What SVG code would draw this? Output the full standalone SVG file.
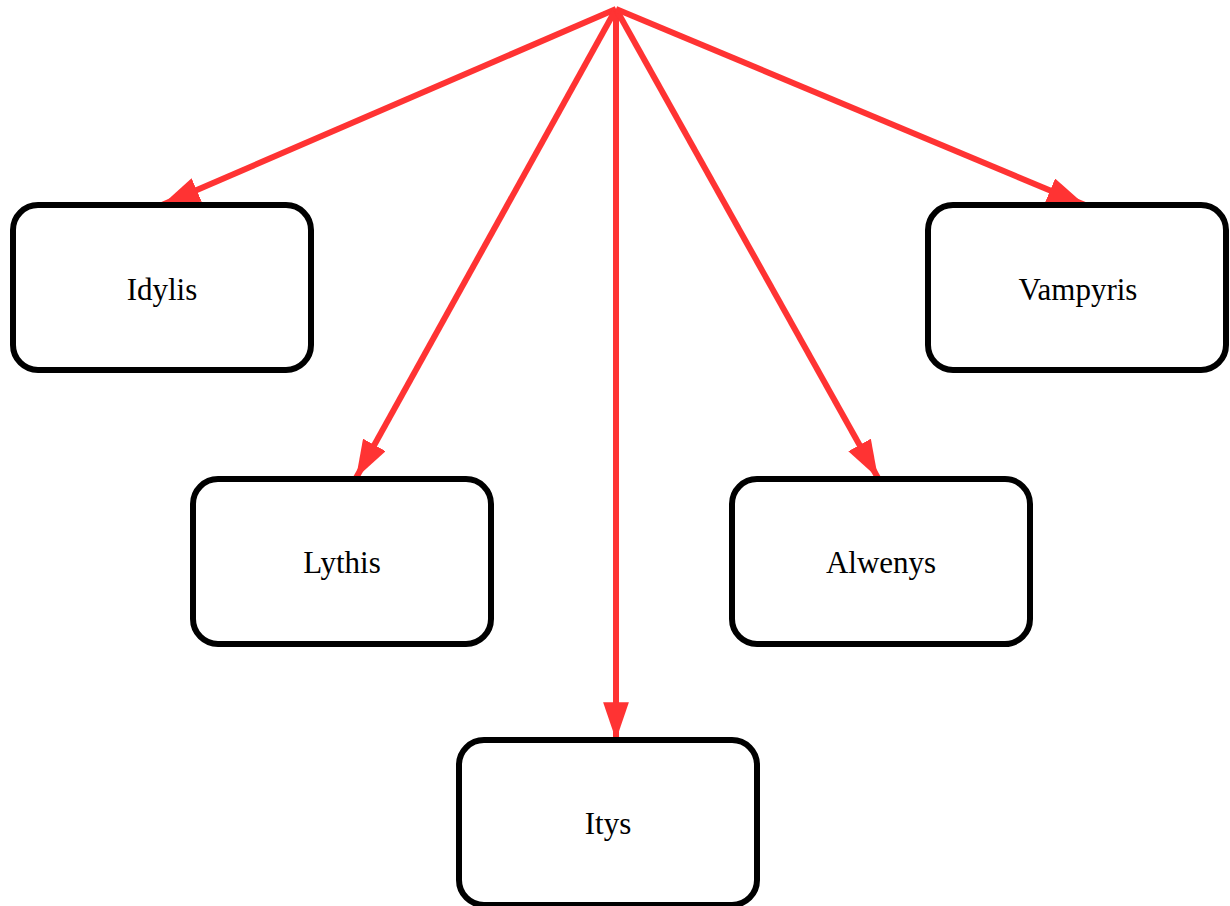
<svg xmlns="http://www.w3.org/2000/svg" width="1230" height="906" viewBox="0 0 1230 906">
<style>
.node rect{fill:#fff;stroke:#000;stroke-width:6}
.node text{font-family:"Liberation Serif","Times New Roman",serif;font-size:31px;fill:#000;text-anchor:middle}
.edge{stroke:#ff3333;stroke-width:6;fill:none}
</style>
<defs>
<marker id="ah" viewBox="0 0 10 10" refX="10" refY="5" markerWidth="6.3" markerHeight="4.3" orient="auto" markerUnits="strokeWidth" preserveAspectRatio="none">
<path d="M0,0 L10,5 L0,10 z" fill="#ff3333"/>
</marker>
</defs>
<g id="connectors">
<line class="edge" x1="616" y1="9" x2="162" y2="205" marker-end="url(#ah)"/>
<line class="edge" x1="616" y1="9" x2="356" y2="478" marker-end="url(#ah)"/>
<line class="edge" x1="616" y1="9" x2="616" y2="740" marker-end="url(#ah)"/>
<line class="edge" x1="616" y1="9" x2="878" y2="478" marker-end="url(#ah)"/>
<line class="edge" x1="616" y1="9" x2="1085" y2="205" marker-end="url(#ah)"/>
</g>
<g id="idylis" class="node"><rect x="13" y="205" width="298" height="165" rx="25"/><text x="162" y="300">Idylis</text></g>
<g id="vampyris" class="node"><rect x="928" y="205" width="298" height="165" rx="25"/><text x="1078" y="300">Vampyris</text></g>
<g id="lythis" class="node"><rect x="193" y="479" width="298" height="165" rx="25"/><text x="342" y="573">Lythis</text></g>
<g id="alwenys" class="node"><rect x="732" y="479" width="298" height="165" rx="25"/><text x="881" y="573">Alwenys</text></g>
<g id="itys" class="node"><rect x="459" y="740" width="298" height="165" rx="25"/><text x="608" y="834">Itys</text></g>
</svg>
